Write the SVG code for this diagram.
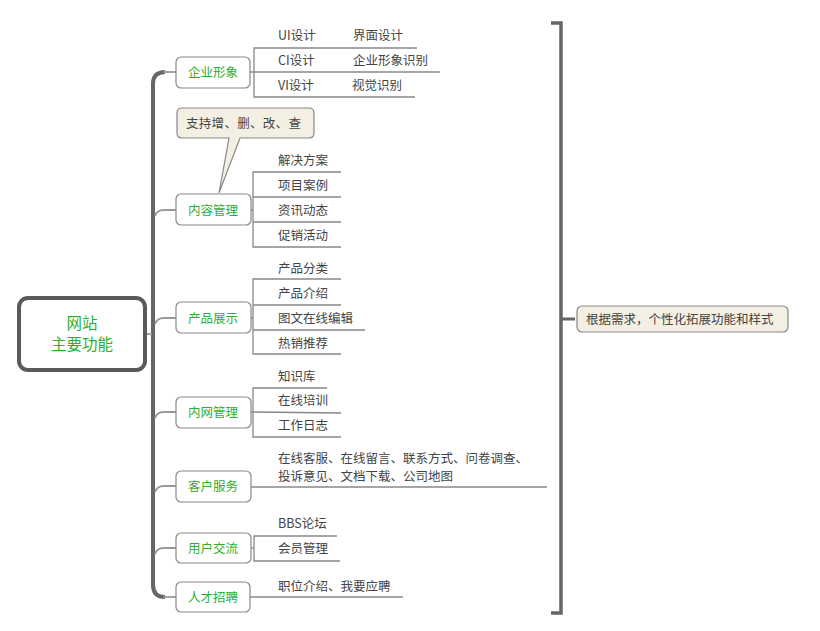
<svg xmlns="http://www.w3.org/2000/svg" width="820" height="631" viewBox="0 0 820 631">
<style>
  .t{font-family:"Noto Sans CJK SC","Liberation Sans",sans-serif;font-size:12.5px;fill:#444}
  .n{font-family:"Noto Sans CJK SC","Liberation Sans",sans-serif;font-size:12.5px;fill:#2fae2f;text-anchor:middle}
  .box{fill:#fff;stroke:#888;stroke-width:1.2}
  .note{fill:#f4efe3;stroke:#888;stroke-width:1.2}
  .ln{fill:none;stroke:#888;stroke-width:1.3}
  .br{fill:none;stroke:#999;stroke-width:1.8}
  .stem{fill:none;stroke:#666;stroke-width:4}
</style>
<rect width="820" height="631" fill="#fff"/>
<g id="connectors">
  <path class="stem" d="M165 72 Q153 72 153 84 L153 585 Q153 597 165 597"/>
  <path class="br" d="M147 334 L152 334"/>
  <path class="br" d="M163 72 L176 72"/>
  <path class="br" d="M155 216 Q157 210 164 210 L176 210"/>
  <path class="br" d="M155 324 Q157 318 164 318 L176 318"/>
  <path class="br" d="M155 418 Q157 412 164 412 L176 412"/>
  <path class="br" d="M155 492 Q157 486 164 486 L176 486"/>
  <path class="br" d="M155 554 Q157 548 164 548 L176 548"/>
  <path class="br" d="M163 597 L176 597"/>
  <path class="ln" d="M417 48 L254 48 L254 97 L415 97"/>
  <path class="ln" d="M250 72 L440 72"/>
  <path class="ln" d="M341 172 L253 172 L253 247 L341 247"/>
  <path class="ln" d="M251 210 L253 210 M253 197 L341 197 M253 222 L341 222"/>
  <path class="ln" d="M341 279 L253 279 L253 354 L341 354"/>
  <path class="ln" d="M251 318 L253 318 M253 305 L341 305 M253 330 L365 330"/>
  <path class="ln" d="M327 388 L253 388 L253 437 L341 437"/>
  <path class="ln" d="M251 412 L253 412 L341 413"/>
  <path class="ln" d="M251 487 L547 487"/>
  <path class="ln" d="M337 536 L254 536 L254 561 L340 561"/>
  <path class="ln" d="M251 548 L254 548"/>
  <path class="ln" d="M250 597 L403 597"/>
  <path d="M551 23 L561 23 L561 613 L551 613" fill="none" stroke="#666" stroke-width="3.5"/>
  <path d="M561 319 L575 319" fill="none" stroke="#666" stroke-width="3"/>
</g>
<g id="root">
  <rect x="19" y="298" width="126" height="72" rx="9" fill="#fff" stroke="#5a5a5a" stroke-width="4"/>
  <text class="n" x="82" y="329" style="font-size:15.5px">网站</text>
  <text class="n" x="82" y="350" style="font-size:15.5px">主要功能</text>
</g>
<g id="n1">
  <rect class="box" x="176" y="57" width="74" height="31" rx="5"/>
  <text class="n" x="213" y="77">企业形象</text>
</g>
<g id="n1c">
  <text class="t" x="278" y="40">UI设计</text>
  <text class="t" x="353" y="40">界面设计</text>
  <text class="t" x="278" y="65">CI设计</text>
  <text class="t" x="353" y="65">企业形象识别</text>
  <text class="t" x="278" y="90">VI设计</text>
  <text class="t" x="352" y="90">视觉识别</text>
</g>
<g id="callout">
  <path class="note" d="M182 108 L309 108 Q314 108 314 113 L314 133 Q314 138 309 138 L240 138 L219 193 L229 138 L182 138 Q177 138 177 133 L177 113 Q177 108 182 108 Z"/>
  <text class="t" x="186" y="128" style="letter-spacing:0.3px">支持增、删、改、查</text>
</g>
<g id="n2">
  <rect class="box" x="176" y="194" width="75" height="31" rx="5"/>
  <text class="n" x="213" y="215">内容管理</text>
</g>
<g id="n2c">
  <text class="t" x="278" y="165">解决方案</text>
  <text class="t" x="278" y="190">项目案例</text>
  <text class="t" x="278" y="215">资讯动态</text>
  <text class="t" x="278" y="240">促销活动</text>
</g>
<g id="n3">
  <rect class="box" x="176" y="302" width="75" height="31" rx="5"/>
  <text class="n" x="213" y="323">产品展示</text>
</g>
<g id="n3c">
  <text class="t" x="278" y="273">产品分类</text>
  <text class="t" x="278" y="298">产品介绍</text>
  <text class="t" x="278" y="323">图文在线编辑</text>
  <text class="t" x="278" y="348">热销推荐</text>
</g>
<g id="n4">
  <rect class="box" x="176" y="397" width="75" height="31" rx="5"/>
  <text class="n" x="213" y="417">内网管理</text>
</g>
<g id="n4c">
  <text class="t" x="278" y="381">知识库</text>
  <text class="t" x="278" y="405">在线培训</text>
  <text class="t" x="278" y="430">工作日志</text>
</g>
<g id="n5">
  <rect class="box" x="176" y="471" width="75" height="31" rx="5"/>
  <text class="n" x="213" y="491">客户服务</text>
</g>
<g id="n5c">
  <text class="t" x="278" y="463">在线客服、在线留言、联系方式、问卷调查、</text>
  <text class="t" x="278" y="481">投诉意见、文档下载、公司地图</text>
</g>
<g id="n6">
  <rect class="box" x="176" y="533" width="75" height="30" rx="5"/>
  <text class="n" x="213" y="553">用户交流</text>
</g>
<g id="n6c">
  <text class="t" x="278" y="528">BBS论坛</text>
  <text class="t" x="278" y="553">会员管理</text>
</g>
<g id="n7">
  <rect class="box" x="176" y="582" width="74" height="30" rx="5"/>
  <text class="n" x="213" y="602">人才招聘</text>
</g>
<g id="n7c">
  <text class="t" x="278" y="591">职位介绍、我要应聘</text>
</g>
<g id="summary">
  <rect class="note" x="577" y="306" width="211" height="26" rx="5"/>
  <text class="t" x="586" y="324">根据需求，个性化拓展功能和样式</text>
</g>
</svg>
